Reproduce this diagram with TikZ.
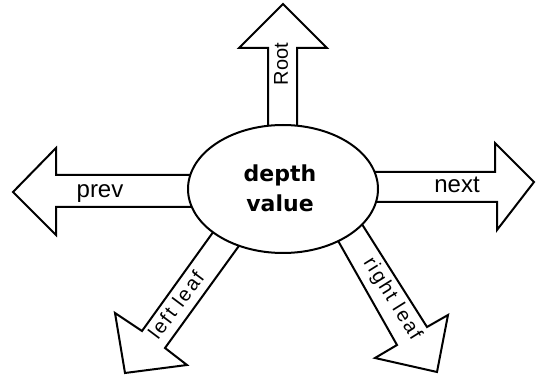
\documentclass[tikz,border=0pt]{standalone}
\usepackage{fontspec}
\setmainfont{Liberation Sans}
\newfontfamily\keyfont{DejaVu Sans}
\newfontfamily\leaffont[LetterSpace=10]{Liberation Sans}

\begin{document}
\begin{tikzpicture}[x=0.5pt, y=-0.5pt,
		arrowbody/.style={line width=1pt, fill=white, line join=miter},
		arrowtext/.style={inner sep=0pt, font=\fontsize{12}{14}\selectfont},
		leaftext/.style={inner sep=0pt, font=\leaffont\fontsize{10}{12}\selectfont},
		keytext/.style={inner sep=0pt, font=\keyfont\bfseries\fontsize{11}{15}\selectfont}]
		%%%%% START %%%%%
		
		\useasboundingbox (0, 0) rectangle (536, 379);
		
		% up, left and right arrows
		\draw[arrowbody] (268, 150) -- (268, 48) -- (239, 48) -- (283, 4) -- (327, 48) -- (297, 48) -- (297, 150) -- cycle;
		\draw[arrowbody] (210, 175) -- (56, 175) -- (56, 148) -- (13, 192) -- (56, 235) -- (56, 207) -- (210, 207) -- cycle;
		\draw[arrowbody] (360, 172) -- (495, 172) -- (495, 143) -- (534, 182) -- (497, 230) -- (497, 202) -- (360, 202) -- cycle;
		
		% the two leaf arrows
		\draw[arrowbody] (224, 217) -- (142, 331) -- (115, 313) -- (125, 373) -- (187, 365) -- (165, 348) -- (249, 232) -- cycle;
		\draw[arrowbody] (328, 223) -- (397, 345) -- (375, 358) -- (437, 372) -- (448, 315) -- (427, 327) -- (353, 210) -- cycle;
		
		% the node itself
		\draw[arrowbody] (283, 189) ellipse [x radius=95, y radius=64];
		\node[keytext, anchor=base] (depth) at (280, 182) {depth};
		\node[keytext, anchor=base] (value) at (280, 212) {value};
		
		\node[arrowtext, font=\fontsize{10}{12}\selectfont, rotate=90] (root) at (281, 64) {Root};
		\node[arrowtext, anchor=base] (prev) at (100, 198) {prev};
		\node[arrowtext, anchor=base] (next) at (457, 193) {next};
		\node[leaftext, rotate=53] (leftleaf) at (176, 305) {left leaf};
		\node[leaftext, rotate=-58] (rightleaf) at (392, 299) {right leaf};
		
		%%%%% END %%%%%
\end{tikzpicture}
\end{document}
